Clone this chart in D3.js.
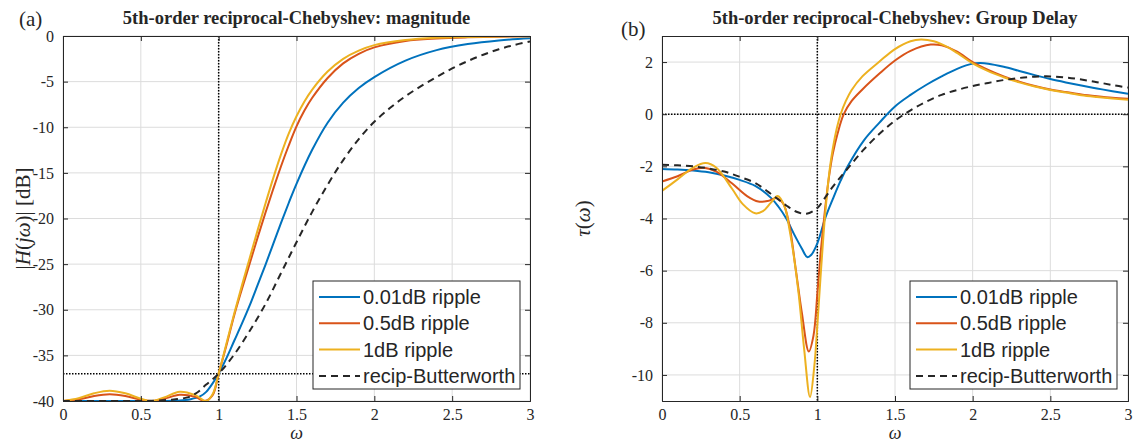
<!DOCTYPE html>
<html><head><meta charset="utf-8">
<script src="https://cdn.jsdelivr.net/npm/d3@7"></script>
<style>body{margin:0;background:#fff}svg{display:block}</style>
</head><body><svg id="c" width="1135" height="446"></svg>
<script>
// ---------- data: magnitude (a) ----------
const xTicks = [0, 0.5, 1, 1.5, 2, 2.5, 3];
const magTicks = [0, -5, -10, -15, -20, -25, -30, -35, -40];
const gdTicks = [2, 0, -2, -4, -6, -8, -10];
const seriesNames = ["0.01dB ripple", "0.5dB ripple", "1dB ripple", "recip-Butterworth"];

const magOmega001 = [0,0.2,0.4,0.6,0.75,0.82,0.88,0.92,0.96,1.0,1.05,1.1,1.15,1.2,1.25,1.3,1.35,1.4,1.45,1.5,1.6,1.7,1.8,1.9,2.0,2.2,2.4,2.6,2.8,3.0];
const mag001 = [-40,-40,-40,-40,-39.95,-39.8,-39.5,-39.0,-38.1,-37,-35.3,-33.4,-31.5,-29.5,-27.3,-25.1,-22.8,-20.5,-18.3,-16.2,-12.5,-9.5,-7.3,-5.7,-4.5,-2.7,-1.55,-0.88,-0.48,-0.25];

const magOmega05 = [0,0.1,0.2,0.3,0.4,0.5,0.57,0.65,0.75,0.85,0.91,0.96,1.0,1.05,1.1,1.15,1.2,1.25,1.3,1.35,1.4,1.45,1.5,1.55,1.6,1.7,1.8,1.9,2.0,2.2,2.4,2.6,2.8,3.0];
const mag05 = [-40,-39.82,-39.45,-39.27,-39.45,-39.85,-40,-39.75,-39.32,-39.55,-40,-39.4,-37,-33.9,-30.6,-27.7,-24.9,-22.1,-19.4,-16.8,-14.3,-12.0,-9.9,-8.2,-6.8,-4.6,-3.0,-1.95,-1.25,-0.55,-0.28,-0.15,-0.08,-0.04];

const magOmega1 = [0,0.1,0.2,0.3,0.4,0.5,0.57,0.65,0.75,0.85,0.92,0.96,1.0,1.05,1.1,1.15,1.2,1.25,1.3,1.35,1.4,1.45,1.5,1.55,1.6,1.7,1.8,1.9,2.0,2.2,2.4,2.6,2.8,3.0];
const mag1 = [-40,-39.7,-39.15,-38.87,-39.15,-39.75,-40,-39.6,-38.98,-39.35,-40,-39.3,-37,-33.7,-30.4,-27.3,-24.3,-21.3,-18.4,-15.6,-13.0,-10.7,-8.8,-7.2,-5.9,-3.9,-2.5,-1.6,-1.0,-0.45,-0.2,-0.1,-0.05,-0.02];

const magOmegaBw = [0,0.3,0.5,0.6,0.7,0.8,0.86,0.92,1.0,1.1,1.2,1.3,1.4,1.5,1.6,1.7,1.8,1.9,2.0,2.1,2.2,2.3,2.4,2.5,2.6,2.7,2.8,2.9,3.0];
const magBw = [-40,-40,-40,-39.95,-39.85,-39.6,-39.1,-38.2,-37,-34.9,-32.3,-29.4,-26.0,-22.6,-19.3,-16.3,-13.6,-11.3,-9.4,-7.9,-6.6,-5.5,-4.5,-3.55,-2.75,-2.05,-1.45,-0.98,-0.6];

// ---------- data: group delay (b) ----------
const gdOmega001 = [0,0.1,0.2,0.3,0.4,0.5,0.6,0.7,0.75,0.8,0.85,0.9,0.935,0.96,1.0,1.05,1.1,1.15,1.2,1.3,1.4,1.5,1.6,1.7,1.8,1.9,2.0,2.05,2.1,2.2,2.3,2.4,2.5,2.6,2.7,2.8,2.9,3.0];
const gd001 = [-2.1,-2.12,-2.16,-2.23,-2.35,-2.52,-2.75,-3.2,-3.55,-4.0,-4.6,-5.15,-5.48,-5.4,-4.95,-4.0,-3.25,-2.55,-1.95,-1.0,-0.32,0.3,0.74,1.12,1.45,1.74,1.94,1.96,1.94,1.82,1.66,1.5,1.35,1.22,1.1,0.99,0.88,0.78];

const gdOmega05 = [0,0.1,0.2,0.27,0.35,0.45,0.55,0.62,0.68,0.74,0.78,0.82,0.86,0.9,0.945,0.975,1.0,1.02,1.04,1.06,1.08,1.1,1.13,1.17,1.22,1.29,1.4,1.5,1.6,1.73,1.8,1.9,2.0,2.1,2.2,2.3,2.4,2.5,2.6,2.7,2.8,2.9,3.0];
const gd05 = [-2.58,-2.38,-2.12,-2.05,-2.2,-2.65,-3.15,-3.35,-3.33,-3.22,-3.42,-4.26,-5.9,-7.6,-9.1,-8.5,-6.9,-5.4,-4.2,-3.1,-2.2,-1.5,-0.75,0.0,0.5,0.95,1.56,2.06,2.43,2.67,2.64,2.4,2.0,1.7,1.45,1.25,1.08,0.95,0.85,0.76,0.69,0.63,0.59];

const gdOmega1 = [0,0.1,0.2,0.28,0.35,0.45,0.52,0.6,0.65,0.7,0.745,0.79,0.82,0.85,0.88,0.915,0.953,0.98,1.0,1.02,1.04,1.06,1.08,1.1,1.125,1.15,1.183,1.22,1.29,1.4,1.5,1.6,1.667,1.75,1.83,1.9,2.0,2.1,2.2,2.3,2.4,2.5,2.6,2.7,2.8,2.9,3.0];
const gd1 = [-2.94,-2.5,-2.05,-1.87,-2.05,-2.85,-3.45,-3.8,-3.72,-3.4,-3.14,-3.55,-4.4,-5.5,-6.9,-9.0,-10.85,-9.7,-8.1,-6.3,-4.6,-3.2,-2.1,-1.3,-0.55,0.0,0.5,0.92,1.45,2.02,2.5,2.8,2.87,2.8,2.6,2.35,1.95,1.65,1.42,1.22,1.06,0.93,0.83,0.73,0.66,0.6,0.55];

const gdOmegaBw = [0,0.1,0.2,0.3,0.4,0.5,0.6,0.7,0.8,0.87,0.93,1.0,1.05,1.1,1.2,1.3,1.4,1.5,1.6,1.7,1.8,1.9,2.0,2.1,2.2,2.3,2.4,2.5,2.6,2.7,2.8,2.9,3.0];
const gdBw = [-1.94,-1.96,-2.0,-2.08,-2.2,-2.4,-2.64,-3.05,-3.5,-3.75,-3.82,-3.6,-3.2,-2.78,-2.05,-1.35,-0.75,-0.25,0.15,0.48,0.74,0.93,1.08,1.2,1.31,1.39,1.44,1.45,1.41,1.33,1.23,1.12,1.02];

const colors = ["#0072BD", "#D95319", "#EDB120", "#262626"];

// ---------- drawing ----------
const svg = d3.select("#c");
const axisColor = "#262626";
const serif = "'Liberation Serif','Times New Roman',serif";

function panel(opt) {
  const {left, right, top, bottom, yDomain, yTicks, series, hRef, title, tag, tagPos, ylabel, ylabelX, id} = opt;
  const x = d3.scaleLinear().domain([0, 3]).range([left, right]);
  const y = d3.scaleLinear().domain(yDomain).range([bottom, top]);
  const g = svg.append("g");

  g.append("clipPath").attr("id", id).append("rect")
    .attr("x", left).attr("y", top).attr("width", right - left).attr("height", bottom - top);

  // grid
  g.append("g").selectAll("line").data(xTicks).join("line")
    .attr("x1", d => x(d)).attr("x2", d => x(d)).attr("y1", top).attr("y2", bottom)
    .attr("stroke", "#dcdcdc").attr("stroke-width", 1);
  g.append("g").selectAll("line").data(yTicks).join("line")
    .attr("x1", left).attr("x2", right).attr("y1", d => y(d)).attr("y2", d => y(d))
    .attr("stroke", "#dcdcdc").attr("stroke-width", 1);

  // reference dotted lines
  const cg = g.append("g").attr("clip-path", `url(#${id})`);
  cg.append("line").attr("x1", x(1)).attr("x2", x(1)).attr("y1", top).attr("y2", bottom)
    .attr("stroke", "#000").attr("stroke-width", 1.5).attr("stroke-dasharray", "1.5,1.5");
  cg.append("line").attr("x1", left).attr("x2", right).attr("y1", y(hRef)).attr("y2", y(hRef))
    .attr("stroke", "#000").attr("stroke-width", 1.5).attr("stroke-dasharray", "1.5,1.5");

  // curves
  const line = d3.line().x(d => x(d[0])).y(d => y(d[1])).curve(d3.curveCatmullRom.alpha(0.5));
  series.forEach((s, i) => {
    cg.append("path").datum(d3.zip(s.x, s.y))
      .attr("d", line).attr("fill", "none")
      .attr("stroke", colors[i]).attr("stroke-width", 2)
      .attr("stroke-dasharray", i === 3 ? "7,5" : null);
  });

  // axes box with inward ticks
  const axB = d3.axisBottom(x).tickValues(xTicks).tickSize(-5).tickPadding(8).tickFormat(d3.format("~g"));
  const axT = d3.axisTop(x).tickValues(xTicks).tickSize(-5).tickFormat("");
  const axL = d3.axisLeft(y).tickValues(yTicks).tickSize(-5).tickPadding(9).tickFormat(d => String(d));
  const axR = d3.axisRight(y).tickValues(yTicks).tickSize(-5).tickFormat("");
  const style = sel => {
    sel.selectAll("path").attr("stroke", axisColor).attr("stroke-width", 1);
    sel.selectAll("line").attr("stroke", axisColor);
    sel.selectAll("text").attr("fill", axisColor)
      .style("font-family", serif).style("font-size", "16px");
  };
  g.append("g").attr("transform", `translate(0,${bottom})`).call(axB).call(style);
  g.append("g").attr("transform", `translate(0,${top})`).call(axT).call(style);
  g.append("g").attr("transform", `translate(${left},0)`).call(axL).call(style);
  g.append("g").attr("transform", `translate(${right},0)`).call(axR).call(style);

  // title
  g.append("text").attr("x", (left + right) / 2).attr("y", 24).attr("text-anchor", "middle")
    .style("font-family", serif).style("font-weight", "bold")
    .style("font-size", "18.5px").attr("fill", axisColor).text(title);
  // panel tag
  g.append("text").attr("x", tagPos[0]).attr("y", tagPos[1])
    .style("font-family", serif).style("font-size", "21px").attr("fill", axisColor).text(tag);
  // x label
  g.append("text").attr("x", (left + right) / 2).attr("y", 439).attr("text-anchor", "middle")
    .style("font-family", serif).style("font-style", "italic")
    .style("font-size", "18px").attr("fill", axisColor).text("ω");
  // y label
  const yl = g.append("text").attr("transform", `translate(${ylabelX},${(top + bottom) / 2}) rotate(-90)`)
    .attr("text-anchor", "middle")
    .style("font-family", serif).style("font-size", "21px").attr("fill", axisColor);
  ylabel.forEach(p => yl.append("tspan").style("font-style", p[1] ? "italic" : "normal").text(p[0]));

  // legend
  const lx = opt.legend[0], ly = opt.legend[1], lw = 207, lh = 108;
  const lg = g.append("g");
  lg.append("rect").attr("x", lx).attr("y", ly).attr("width", lw).attr("height", lh)
    .attr("fill", "#fff").attr("stroke", axisColor).attr("stroke-width", 1);
  seriesNames.forEach((n, i) => {
    const cy = ly + 16 + i * 26.3;
    lg.append("line").attr("x1", lx + 6).attr("x2", lx + 47).attr("y1", cy).attr("y2", cy)
      .attr("stroke", colors[i]).attr("stroke-width", 2)
      .attr("stroke-dasharray", i === 3 ? "7,5" : null);
    lg.append("text").attr("x", lx + 50).attr("y", cy + 7)
      .style("font-family", "'Liberation Sans',Arial,sans-serif").style("font-size", "20px")
      .attr("fill", axisColor).text(n);
  });
}

panel({
  id: "clipA", left: 63, right: 530, top: 36, bottom: 401,
  yDomain: [-40, 0], yTicks: magTicks, hRef: -37,
  series: [
    {x: magOmega001, y: mag001}, {x: magOmega05, y: mag05},
    {x: magOmega1, y: mag1}, {x: magOmegaBw, y: magBw}],
  title: "5th-order reciprocal-Chebyshev: magnitude",
  tag: "(a)", tagPos: [19, 26],
  ylabel: [["|", 0], ["H", 1], ["(", 0], ["j", 1], ["ω", 1], [")| [dB]", 0]], ylabelX: 30,
  legend: [313, 281]
});

panel({
  id: "clipB", left: 662, right: 1128, top: 36, bottom: 401,
  yDomain: [-11, 3], yTicks: gdTicks, hRef: 0,
  series: [
    {x: gdOmega001, y: gd001}, {x: gdOmega05, y: gd05},
    {x: gdOmega1, y: gd1}, {x: gdOmegaBw, y: gdBw}],
  title: "5th-order reciprocal-Chebyshev: Group Delay",
  tag: "(b)", tagPos: [621, 36],
  ylabel: [["τ", 1], ["(", 0], ["ω", 1], [")", 0]], ylabelX: 590,
  legend: [910, 281]
});
</script></body></html>
